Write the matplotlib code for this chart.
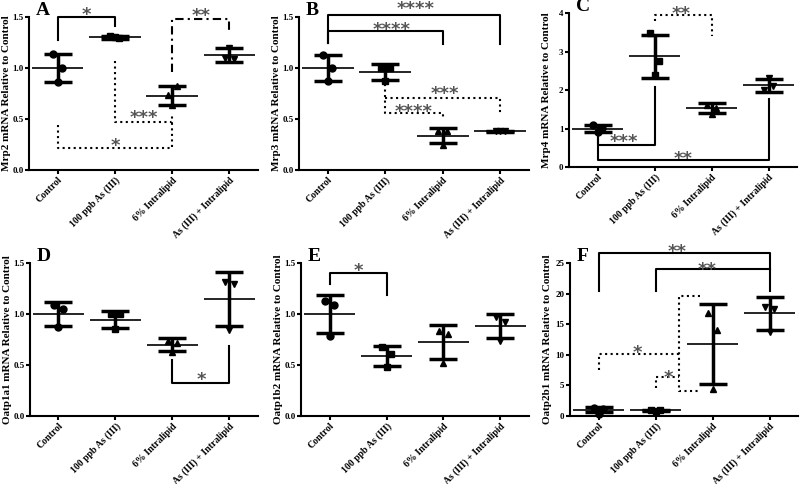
import matplotlib

matplotlib.use("Agg")
import matplotlib.pyplot as plt
import numpy as np

plt.rcParams["font.family"] = ["Liberation Serif", "DejaVu Serif"]
plt.rcParams["font.weight"] = "bold"

groups = ["Control", "100 ppb As (III)", "6% Intralipid", "As (III) + Intralipid"]
markers = ["o", "s", "^", "v"]
JITTER = [-0.08, 0.08, 0.0]

# individual points per group (3 animals each)
pts_A = [[1.14, 1.00, 0.86], [1.31, 1.29, 1.30], [0.74, 0.82, 0.64], [1.10, 1.09, 1.20]]
mean_A = [1.00, 1.30, 0.73, 1.13]
sd_A = [0.14, 0.012, 0.09, 0.07]

pts_B = [[1.13, 1.00, 0.87], [1.00, 1.00, 0.87], [0.38, 0.38, 0.25], [0.38, 0.38, 0.38]]
mean_B = [1.00, 0.96, 0.335, 0.38]
sd_B = [0.13, 0.075, 0.075, 0.005]

pts_C = [[1.08, 1.02, 0.90], [3.47, 2.75, 2.40], [1.60, 1.52, 1.38], [2.00, 2.10, 2.30]]
mean_C = [1.00, 2.88, 1.52, 2.12]
sd_C = [0.09, 0.56, 0.13, 0.16]

pts_D = [[1.09, 1.05, 0.87], [1.00, 1.00, 0.85], [0.74, 0.72, 0.63], [1.31, 1.29, 0.84]]
mean_D = [1.00, 0.945, 0.70, 1.145]
sd_D = [0.12, 0.085, 0.06, 0.265]

pts_E = [[1.13, 1.09, 0.78], [0.68, 0.61, 0.48], [0.83, 0.80, 0.52], [0.97, 0.92, 0.74]]
mean_E = [1.00, 0.59, 0.725, 0.88]
sd_E = [0.19, 0.10, 0.165, 0.12]

pts_F = [[1.3, 1.2, 0.4], [1.0, 0.9, 0.8], [16.8, 14.0, 4.4], [17.8, 17.5, 13.7]]
mean_F = [1.0, 0.9, 11.8, 16.75]
sd_F = [0.4, 0.1, 6.5, 2.7]

# significance brackets: (path in group index / value, linestyle, label, label pos)
sig_A = [
    ([(0, 1.27), (0, 1.5), (1, 1.5), (1, 1.41)], "-", "*", (0.5, 1.57)),
    ([(2, 0.96), (2, 1.48), (3, 1.48), (3, 1.33)], (0, (4, 2, 1, 2)), "**", (2.5, 1.56)),
    ([(1, 1.07), (1, 0.47), (2, 0.47), (2, 0.56)], ":", "***", (1.5, 0.555)),
    ([(0, 0.44), (0, 0.22), (2, 0.22), (2, 0.47)], ":", "*", (1.0, 0.28)),
]
sig_B = [
    ([(0, 1.25), (0, 1.52), (3, 1.52), (3, 1.24)], "-", "****", (1.52, 1.62)),
    ([(0, 1.25), (0, 1.36), (2, 1.36), (2, 1.24)], "-", "****", (1.11, 1.42)),
    ([(1, 0.84), (1, 0.56), (2, 0.56), (2, 0.51)], ":", "****", (1.49, 0.615)),
    ([(1, 0.71), (3, 0.71), (3, 0.56)], ":", "***", (2.04, 0.79)),
]
sig_C = [
    ([(1, 3.78), (1, 3.96), (2, 3.96), (2, 3.39)], ":", "**", (1.47, 4.1)),
    ([(0, 0.78), (0, 0.58), (1, 0.58), (1, 2.09)], "-", "***", (0.47, 0.77)),
    ([(0, 0.78), (0, 0.17), (3, 0.17), (3, 1.76)], "-", "**", (1.51, 0.33)),
]
sig_D = [
    ([(2, 0.55), (2, 0.32), (3, 0.32), (3, 0.69)], "-", "*", (2.51, 0.40)),
]
sig_E = [
    ([(0, 1.29), (0, 1.40), (1, 1.40), (1, 1.19)], "-", "*", (0.5, 1.47)),
]
sig_F = [
    ([(0, 20.5), (0, 26.7), (3, 26.7), (3, 20.4)], "-", "**", (1.38, 27.5)),
    ([(1, 20.4), (1, 24.0), (3, 24.0)], "-", "**", (1.91, 24.6)),
    ([(0, 7.5), (0, 10.1), (1.42, 10.1)], ":", "*", (0.69, 11.0)),
    ([(1, 4.5), (1, 6.4), (1.42, 6.4)], ":", "*", (1.23, 7.0)),
    ([(1.78, 19.6), (1.42, 19.6), (1.42, 4.1), (1.78, 4.1)], ":", "", None),
]

panels = [
    ("A", "Mrp2", pts_A, mean_A, sd_A, sig_A, [0, 0.5, 1.0, 1.5], "%.1f"),
    ("B", "Mrp3", pts_B, mean_B, sd_B, sig_B, [0, 0.5, 1.0, 1.5], "%.1f"),
    ("C", "Mrp4", pts_C, mean_C, sd_C, sig_C, [0, 1, 2, 3, 4], "%d"),
    ("D", "Oatp1a1", pts_D, mean_D, sd_D, sig_D, [0, 0.5, 1.0, 1.5], "%.1f"),
    ("E", "Oatp1b2", pts_E, mean_E, sd_E, sig_E, [0, 0.5, 1.0, 1.5], "%.1f"),
    ("F", "Oatp2b1", pts_F, mean_F, sd_F, sig_F, [0, 5, 10, 15, 20, 25], "%d"),
]

# axes rectangles in pixels: left, top, width, height
W, H = 800, 484
rects = [
    (29, 17, 229, 153), (299, 17, 230, 153), (569, 13, 228, 154),
    (30, 263, 228, 153), (301, 263, 228, 153), (570, 263, 228, 153),
]

fig = plt.figure(figsize=(8, 4.84), dpi=100)
x = np.arange(len(groups))

for (letter, gene, pts, means, sds, sigs, yt, fmt), (l, t, w, h) in zip(panels, rects):
    ax = fig.add_axes([l / W, 1 - (t + h) / H, w / W, h / H])
    for i in range(len(groups)):
        ax.plot(x[i] + np.array(JITTER), pts[i], marker=markers[i], ls="none",
                color="black", ms=5, clip_on=False, zorder=3)
        ax.errorbar(x[i], means[i], yerr=sds[i], fmt="none", ecolor="black",
                    elinewidth=2.5, capsize=10, capthick=2.5, zorder=4)
    ax.hlines(means, x - 0.45, x + 0.45, color="black", lw=1.2, zorder=4)

    for path, ls, label, pos in sigs:
        px, py = zip(*path)
        ax.plot(px, py, color="black", ls=ls, lw=1.5, clip_on=False)
        if label:
            ax.annotate(label, pos, xytext=(0, -7), textcoords="offset points",
                        ha="center", va="baseline", fontsize=13, color="#555555",
                        family="DejaVu Sans", annotation_clip=False)

    ax.set_xlim(-0.5, 3.5)
    ax.set_ylim(yt[0], yt[-1])
    ax.set_yticks(yt)
    ax.set_yticklabels([fmt % v for v in yt], fontsize=6.5, fontweight="bold")
    ax.set_xticks(x)
    ax.set_xticklabels(groups, rotation=45, ha="right", rotation_mode="anchor",
                       fontsize=7, fontweight="bold")
    ax.set_ylabel(f"{gene} mRNA Relative to Control", fontsize=8,
                  fontweight="bold", va="center")
    ax.yaxis.set_label_coords(-22.5 / w, 0.5)
    for s in ["top", "right"]:
        ax.spines[s].set_visible(False)
    for s in ["left", "bottom"]:
        ax.spines[s].set_linewidth(1.5)
    ax.tick_params(direction="out", length=3, width=1.5, pad=1)
    ax.text(0.03, 1.01, letter, transform=ax.transAxes, fontsize=14,
            fontweight="bold", va="baseline", ha="left")

fig.savefig("out.png", dpi=100)
